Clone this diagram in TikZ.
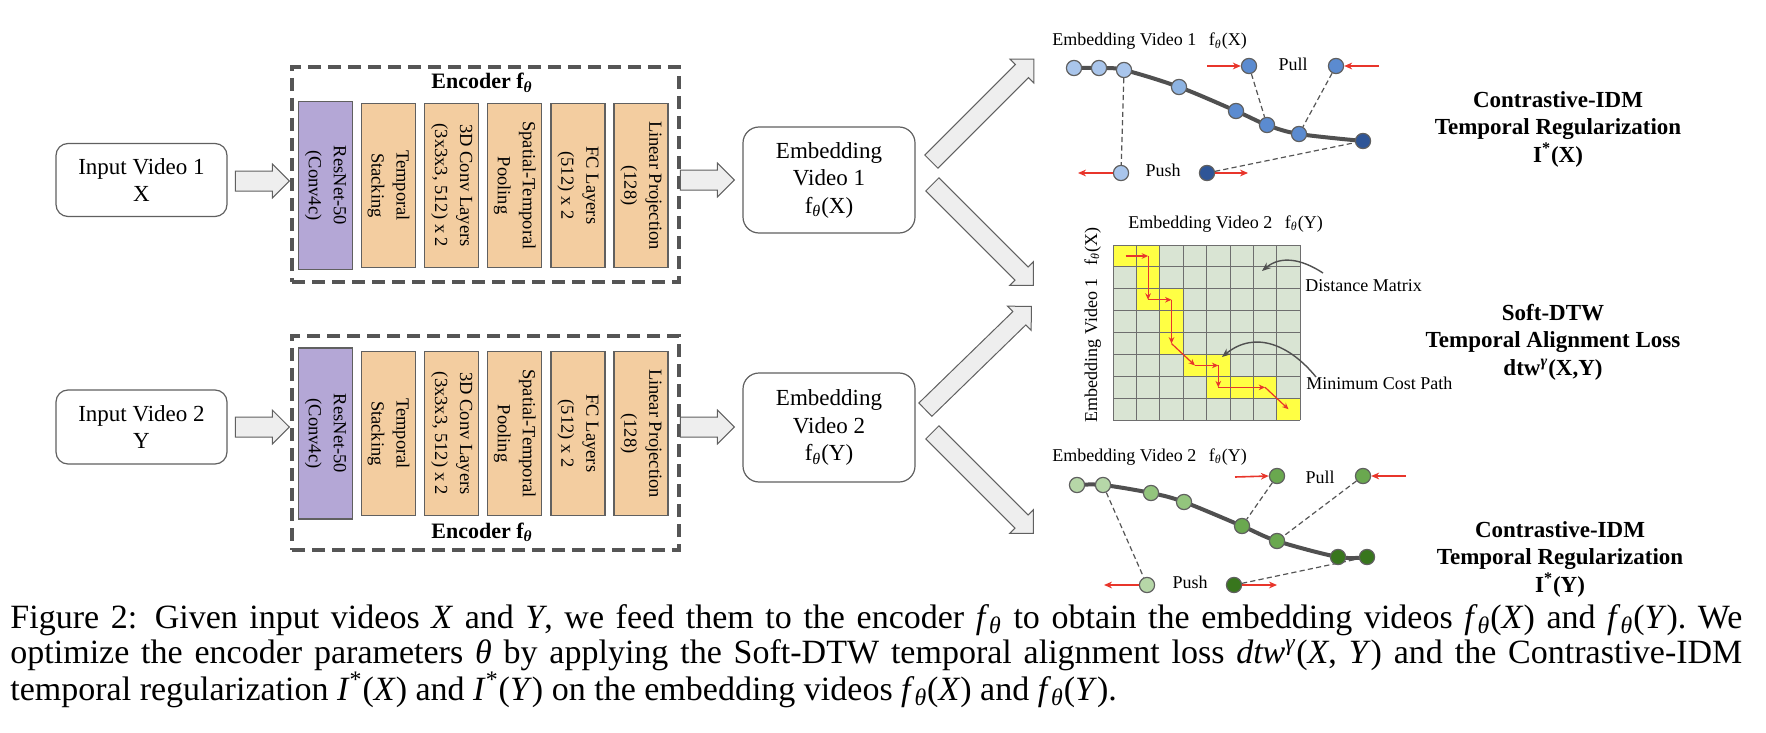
\documentclass[tikz,border=0pt]{standalone}
\usepackage{fontspec}
\setmainfont{Liberation Serif}
\usetikzlibrary{shapes.arrows,arrows.meta,calc,backgrounds}
\definecolor{lpurple}{HTML}{B4A7D6}
\definecolor{lorange}{HTML}{F3CDA0}
\definecolor{bordergray}{HTML}{606060}
\definecolor{dashgray}{HTML}{555555}
\definecolor{arrowfill}{HTML}{EEEEEE}
\definecolor{gridfill}{HTML}{D9E4D3}
\definecolor{gridline}{HTML}{6E6E6E}
\definecolor{pathyellow}{HTML}{FFFF44}
\definecolor{redarrow}{HTML}{E8352B}
\definecolor{curvegray}{HTML}{505050}
\definecolor{blA}{HTML}{A9C5EB}
\definecolor{blB}{HTML}{8DB3E2}
\definecolor{blC}{HTML}{5B8BD0}
\definecolor{blD}{HTML}{2E5597}
\definecolor{grA}{HTML}{B6D7A8}
\definecolor{grB}{HTML}{93C47D}
\definecolor{grC}{HTML}{6AA84F}
\definecolor{grD}{HTML}{38761D}
\begin{document}
\begin{tikzpicture}[x=0.5pt,y=-0.5pt,
  inbox/.style={draw=bordergray, line width=0.6pt, rounded corners=6pt, align=center,
    font=\fontsize{11.5}{13.5}\selectfont, inner sep=0, minimum width=85.5pt},
  encbox/.style={draw=dashgray, line width=1.9pt, dash pattern=on 6.5pt off 3.5pt,
    minimum width=193.5pt, inner sep=0},
  layer/.style={draw=bordergray, line width=0.6pt, rotate=-90, align=center, inner sep=0,
    font=\fontsize{9.25}{12.5}\selectfont, minimum height=27pt, minimum width=82pt},
  harrow/.style={single arrow, draw=bordergray, fill=arrowfill, line width=0.5pt,
    inner xsep=0pt, inner ysep=4.75pt, single arrow head extend=3.5pt,
    single arrow tip angle=90, minimum height=27pt},
  darrow/.style={single arrow, draw=bordergray, fill=arrowfill, line width=0.5pt,
    inner xsep=0pt, inner ysep=4.4pt, single arrow head extend=3.8pt,
    single arrow tip angle=90, anchor=tail},
  embbox/.style={draw=bordergray, line width=0.6pt, rounded corners=8pt, align=center,
    font=\fontsize{11.5}{13.75}\selectfont, inner sep=0, minimum width=86pt},
  enctitle/.style={font=\bfseries\fontsize{11}{13}\selectfont, inner sep=0, anchor=base},
  gnode/.style={circle, draw=bordergray, line width=0.6pt, minimum size=7.6pt, inner sep=0},
  curveln/.style={draw=curvegray, line width=2pt},
  dashln/.style={draw=dashgray, line width=0.6pt, dash pattern=on 2.6pt off 1.6pt},
  redarr/.style={draw=redarrow, line width=0.8pt, -{Stealth[length=4pt,width=3.4pt]}},
  gridred/.style={draw=redarrow, line width=0.6pt, -{Stealth[length=3.2pt,width=2.8pt]}},
  grayarr/.style={draw=curvegray, line width=0.7pt, -{Stealth[length=4.5pt,width=3.6pt]}},
  gridln/.style={draw=gridline, line width=0.5pt},
  small/.style={font=\fontsize{9}{11}\selectfont, inner sep=0},
  titlebox/.style={font=\bfseries\fontsize{11.5}{13.75}\selectfont, align=center, inner sep=0}
]
\path[use as bounding box] (0,0) rectangle (1766,733);

% ---------------- inputs ----------------
\node[inbox, minimum height=36.5pt] (in1) at (141.5,180) {Input Video 1\\X};
\node[inbox, minimum height=37pt] (in2) at (141.5,427) {Input Video 2\\Y};
\node[harrow, anchor=tip] (a1) at (290,181) {};
\node[harrow, anchor=tip] (a2) at (290,427) {};

% ---------------- encoders ----------------
\node[encbox, minimum height=107.5pt] (enc1) at (485.5,174.5) {};
\node[encbox, minimum height=107pt] (enc2) at (485.5,443) {};
\node[enctitle] (et1) at (482,89) {Encoder f\textsubscript{\textit{θ}}};
\node[enctitle] (et2) at (482,538) {Encoder f\textsubscript{\textit{θ}}};

\node[layer, fill=lpurple, minimum width=84pt] (l1a) at (325.5,185.5) {ResNet-50\\(Conv4c)};
\node[layer, fill=lorange] (l1b) at (388.6,185.5) {Temporal\\Stacking};
\node[layer, fill=lorange] (l1c) at (451.7,185.5) {3D Conv Layers\\(3x3x3, 512) x 2};
\node[layer, fill=lorange] (l1d) at (514.8,185.5) {Spatial-Temporal\\Pooling};
\node[layer, fill=lorange] (l1e) at (577.9,185.5) {FC Layers\\(512) x 2};
\node[layer, fill=lorange] (l1f) at (641,185.5) {Linear Projection\\(128)};

\node[layer, fill=lpurple, minimum width=85.5pt] (l2a) at (325.5,433.5) {ResNet-50\\(Conv4c)};
\node[layer, fill=lorange] (l2b) at (388.6,433.5) {Temporal\\Stacking};
\node[layer, fill=lorange] (l2c) at (451.7,433.5) {3D Conv Layers\\(3x3x3, 512) x 2};
\node[layer, fill=lorange] (l2d) at (514.8,433.5) {Spatial-Temporal\\Pooling};
\node[layer, fill=lorange] (l2e) at (577.9,433.5) {FC Layers\\(512) x 2};
\node[layer, fill=lorange] (l2f) at (641,433.5) {Linear Projection\\(128)};

% ---------------- embeddings ----------------
\node[harrow, anchor=tip] (a3) at (735,180) {};
\node[harrow, anchor=tip] (a4) at (735,427) {};
\node[embbox, minimum height=53pt] (emb1) at (829,180) {Embedding\\Video 1\\f\textsubscript{\textit{θ}}(X)};
\node[embbox, minimum height=54.5pt] (emb2) at (829,427.5) {Embedding\\Video 2\\f\textsubscript{\textit{θ}}(Y)};

\node[darrow, rotate=45, minimum height=72.5pt] (d1) at (931,162) {};
\node[darrow, rotate=-45, minimum height=71.5pt] (d2) at (932,184) {};
\node[darrow, rotate=44.2, minimum height=74pt] (d3) at (925,410) {};
\node[darrow, rotate=-45, minimum height=71.5pt] (d4) at (932,432) {};

% ---------------- top graph (blue) ----------------
\node[small, anchor=base west] (h1) at (1052,46) {Embedding Video 1\hspace{0.7em}f\textsubscript{\textit{θ}}(X)};
\node[gnode, fill=blA] (b1) at (1074,68) {};
\node[gnode, fill=blA] (b2) at (1099,68) {};
\node[gnode, fill=blA] (b3) at (1124,70) {};
\node[gnode, fill=blB] (b4) at (1179,87) {};
\node[gnode, fill=blC] (b5) at (1236,111) {};
\node[gnode, fill=blC] (b6) at (1267,125) {};
\node[gnode, fill=blC] (b7) at (1299,134) {};
\node[gnode, fill=blD] (b8) at (1363,141) {};
\node[gnode, fill=blC] (bpl) at (1249,66) {};
\node[gnode, fill=blC] (bpr) at (1336,66) {};
\node[gnode, fill=blA] (bsl) at (1121,173) {};
\node[gnode, fill=blD] (bsr) at (1207,173) {};
\node[small] (bpull) at (1293,64) {Pull};
\node[small] (bpush) at (1163,170) {Push};
\coordinate (bpla) at (1207,66);
\coordinate (bpra) at (1379,66);
\coordinate (bsla) at (1078,173);
\coordinate (bsra) at (1248,173);
\draw[redarr] (bpla) -- (bpl.west);
\draw[redarr] (bpra) -- (bpr.east);
\draw[redarr] (bsl.west) -- (bsla);
\draw[redarr] (bsr.east) -- (bsra);
\begin{pgfonlayer}{background}
\draw[curveln] plot[smooth, tension=0.55] coordinates {(b1.center) (b2.center) (b3.center) (b4.center) (b5.center) (b6.center) (b7.center) (b8.center)};
\draw[dashln] (b3) -- (bsl);
\draw[dashln] (bpl) -- (b6);
\draw[dashln] (bpr) -- (b7);
\draw[dashln] (bsr) -- (b8);
\end{pgfonlayer}
\node[titlebox] (t1) at (1558,129) {Contrastive-IDM\\Temporal Regularization\\I\textsuperscript{*}(X)};

% ---------------- distance matrix ----------------
\node[small, anchor=base west] (h2) at (1128,228) {Embedding Video 2\hspace{0.7em}f\textsubscript{\textit{θ}}(Y)};
\node[small, anchor=base, rotate=90] (v2) at (1097,325) {Embedding Video 1\hspace{0.7em}f\textsubscript{\textit{θ}}(X)};
\fill[gridfill] (1113,245) rectangle (1300.2,420.2);
\foreach \r/\c in {0/0,0/1,1/1,2/1,2/2,3/2,4/2,5/3,5/4,6/4,6/5,6/6,7/7}
  \fill[pathyellow] ({1113+\c*23.4},{245+\r*21.9}) rectangle ++(23.4,21.9);
\foreach \k in {0,...,8} {
  \draw[gridln] ({1113+\k*23.4},245) -- ({1113+\k*23.4},420.2);
  \draw[gridln] (1113,{245+\k*21.9}) -- (1300.2,{245+\k*21.9});
}
\coordinate (q0) at (1125.5,256);
\coordinate (q1) at (1148.1,256);
\coordinate (q2) at (1148.1,299.75);
\coordinate (q3) at (1171.5,299.75);
\coordinate (q4) at (1171.5,343.55);
\coordinate (q5) at (1194.9,365.45);
\coordinate (q6) at (1218.3,365.45);
\coordinate (q7) at (1218.3,387.35);
\coordinate (q8) at (1265.1,387.35);
\coordinate (q9) at (1288.5,409.25);
\draw[gridred] (q0) -- (q1);
\draw[gridred] (q1) -- (q2);
\draw[gridred] (q2) -- (q3);
\draw[gridred] (q3) -- (q4);
\draw[gridred] (q4) -- (q5);
\draw[gridred] (q5) -- (q6);
\draw[gridred] (q6) -- (q7);
\draw[gridred] (q7) -- (q8);
\draw[gridred] (q8) -- (q9);
\node[small, anchor=base west] (dm) at (1305,291) {Distance Matrix};
\node[small, anchor=base west] (mc) at (1306,389) {Minimum Cost Path};
\coordinate (dmt) at (1262,271);
\coordinate (mct) at (1222,357);
\draw[grayarr] (1323,273) .. controls (1300,258) and (1280,256) .. (dmt);
\draw[grayarr] (1316,377) .. controls (1290,345) and (1255,330) .. (mct);
\node[titlebox] (t2) at (1553,342) {Soft-DTW\\Temporal Alignment Loss\\dtw\textsuperscript{\textit{γ}}(X,Y)};

% ---------------- bottom graph (green) ----------------
\node[small, anchor=base west] (h3) at (1052,461) {Embedding Video 2\hspace{0.7em}f\textsubscript{\textit{θ}}(Y)};
\node[gnode, fill=grA] (g1) at (1077,485) {};
\node[gnode, fill=grA] (g2) at (1103,485) {};
\node[gnode, fill=grB] (g3) at (1151,493) {};
\node[gnode, fill=grB] (g4) at (1184,502) {};
\node[gnode, fill=grC] (g5) at (1242,526) {};
\node[gnode, fill=grC] (g6) at (1277,541) {};
\node[gnode, fill=grD] (g7) at (1338,557) {};
\node[gnode, fill=grD] (g8) at (1367,557) {};
\node[gnode, fill=grC] (gpl) at (1277,476) {};
\node[gnode, fill=grC] (gpr) at (1363,476) {};
\node[gnode, fill=grA] (gsl) at (1147,585) {};
\node[gnode, fill=grD] (gsr) at (1234,585) {};
\node[small] (gpull) at (1320,477) {Pull};
\node[small] (gpush) at (1190,582) {Push};
\coordinate (gpla) at (1235,477);
\coordinate (gpra) at (1406,476);
\coordinate (gsla) at (1104,585);
\coordinate (gsra) at (1277,585);
\draw[redarr] (gpla) -- (gpl.west);
\draw[redarr] (gpra) -- (gpr.east);
\draw[redarr] (gsl.west) -- (gsla);
\draw[redarr] (gsr.east) -- (gsra);
\begin{pgfonlayer}{background}
\draw[curveln] plot[smooth, tension=0.55] coordinates {(g1.center) (g2.center) (g3.center) (g4.center) (g5.center) (g6.center) (g7.center) (g8.center)};
\draw[dashln] (g2) -- (gsl);
\draw[dashln] (gpl) -- (g5);
\draw[dashln] (gpr) -- (g6);
\draw[dashln] (gsr) -- (g8);
\end{pgfonlayer}
\node[titlebox] (t3) at (1560,559) {Contrastive-IDM\\Temporal Regularization\\I\textsuperscript{*}(Y)};

% ---------------- caption ----------------
\node[anchor=base west, text width=866pt, align=justify, inner sep=0] (cap) at (10,628) {\fontsize{17}{17.5}\selectfont Figure 2: Given input videos \textit{X} and \textit{Y}, we feed them to the encoder \textit{f}\textsubscript{\textit{θ}} to obtain the embedding videos \textit{f}\textsubscript{\textit{θ}}(\textit{X}) and \textit{f}\textsubscript{\textit{θ}}(\textit{Y}). We\linebreak
optimize the encoder parameters \textit{θ} by applying the Soft-DTW temporal alignment loss \textit{dtw}\textsuperscript{\textit{γ}}(\textit{X}, \textit{Y}) and the Contrastive-IDM\linebreak
temporal regularization \textit{I}\textsuperscript{*}(\textit{X}) and \textit{I}\textsuperscript{*}(\textit{Y}) on the embedding videos \textit{f}\textsubscript{\textit{θ}}(\textit{X}) and \textit{f}\textsubscript{\textit{θ}}(\textit{Y}).\par};
\end{tikzpicture}
\end{document}
